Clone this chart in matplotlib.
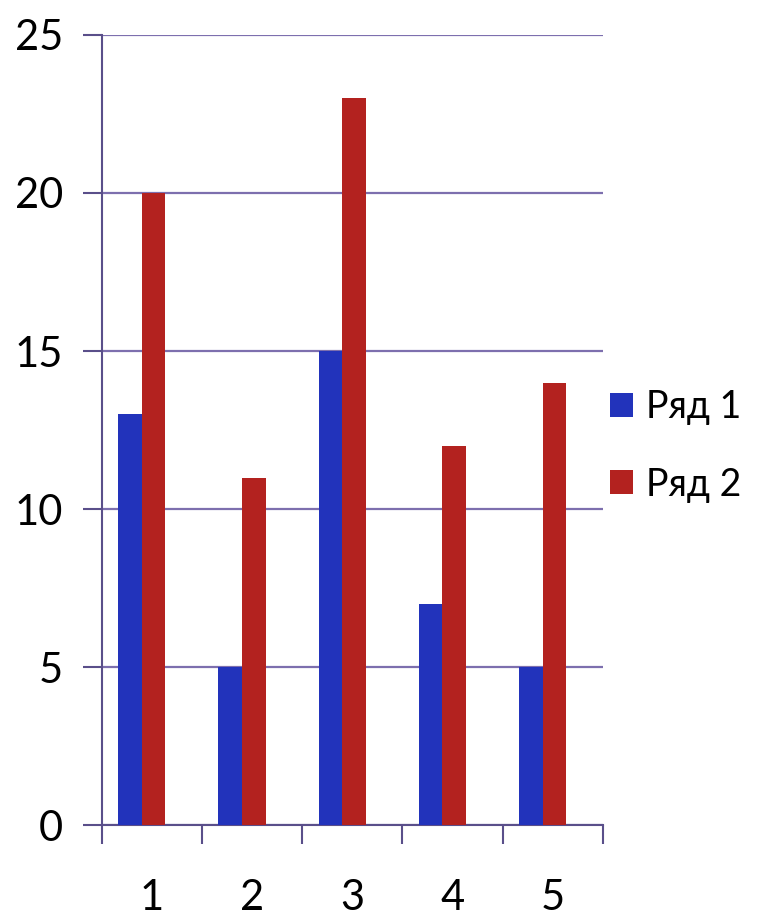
import matplotlib.pyplot as plt
import numpy as np

categories = ["1", "2", "3", "4", "5"]
series1 = [13, 5, 15, 7, 5]
series2 = [20, 11, 23, 12, 14]
labels = ["Ряд 1", "Ряд 2"]

plt.rcParams['font.family'] = ['Lato', 'DejaVu Sans']

fig = plt.figure(figsize=(7.65, 9.17), dpi=100)
ax = fig.add_axes([0.133, 0.100, 0.655, 0.862])

x = np.arange(len(categories))
w = 0.235
ax.bar(x - 0.1 - w / 2, series1, width=w, color="#2233bb", label=labels[0], zorder=3)
ax.bar(x - 0.1 + w / 2, series2, width=w, color="#b3221f", label=labels[1], zorder=3)

ax.set_xlim(-0.5, len(categories) - 0.5)
ax.set_ylim(0, 25)
ax.set_yticks(range(0, 26, 5))
ax.yaxis.grid(True, color="#7d6fae", linewidth=1.6, zorder=0)

ax.set_xticks(x)
ax.set_xticklabels(categories)
ax.set_xticks(np.arange(-0.5, len(categories)), minor=True)
ax.tick_params(axis="x", which="major", length=0, pad=52, labelsize=30)
ax.tick_params(axis="x", which="minor", length=14, width=1.5, color="#5a4f8a", direction="out")
ax.tick_params(axis="y", length=14, width=1.5, color="#5a4f8a", labelsize=30, pad=14)
for lbl in ax.get_xticklabels():
    lbl.set_verticalalignment("center")

for s in ["top", "right"]:
    ax.spines[s].set_visible(False)
for s in ["left", "bottom"]:
    ax.spines[s].set_color("#5a4f8a")
    ax.spines[s].set_linewidth(1.5)

ax.legend(loc="center left", bbox_to_anchor=(0.985, 0.48), frameon=False,
          fontsize=27, handlelength=0.6, handleheight=0.6, handletextpad=0.35,
          labelspacing=1.1, borderaxespad=0.0)

plt.savefig("out.png", dpi=100)
